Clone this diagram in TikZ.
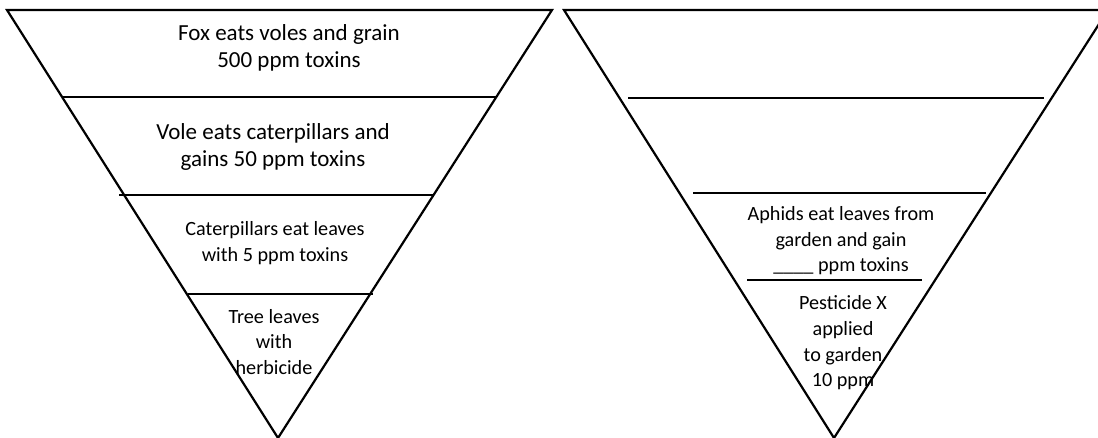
\documentclass[tikz,border=0pt]{standalone}
\usepackage{fontspec}
\setmainfont{Carlito}
\usetikzlibrary{positioning}

\begin{document}
\begin{tikzpicture}[
						x=0.5pt,
						y=-0.5pt,
						side/.style={line width=1.1pt, line join=miter},
						tierline/.style={line width=1.2pt},
						bigtext/.style={align=center, inner sep=0pt, font=\fontsize{11.5}{13.5}\selectfont},
						smalltext/.style={align=center, inner sep=0pt, font=\fontsize{10.1}{12.8}\selectfont}
					]
					\useasboundingbox (0,0) rectangle (1098,438);
					% left pyramid
					\coordinate (ltl) at (7,10);
					\coordinate (ltr) at (552,10);
					\coordinate (lap) at (278,438);
					\coordinate (l1a) at (62,97);
					\coordinate (l1b) at (497,97);
					\coordinate (l2a) at (119,195);
					\coordinate (l2b) at (433,195);
					\coordinate (l3a) at (188,294);
					\coordinate (l3b) at (373,294);
					\draw[side] (ltl) -- (ltr) -- (lap) -- cycle;
					\draw[tierline] (l1a) -- (l1b);
					\draw[tierline] (l2a) -- (l2b);
					\draw[tierline] (l3a) -- (l3b);
					\node[bigtext] (fox) at (289,48) {Fox eats voles and grain\\500 ppm toxins};
					\node[bigtext] (vole) at (273,147) {Vole eats caterpillars and\\gains 50 ppm toxins};
					\node[smalltext] (cater) at (275,243) {Caterpillars eat leaves\\with 5 ppm toxins};
					\node[smalltext] (tree) at (274,342) {Tree leaves\\with\\herbicide};
					% right pyramid
					\coordinate (rtl) at (564,10);
					\coordinate (rtr) at (1108,10);
					\coordinate (rap) at (834,438);
					\coordinate (r1a) at (628,98);
					\coordinate (r1b) at (1044,98);
					\coordinate (r2a) at (693,193);
					\coordinate (r2b) at (986,193);
					\coordinate (r3a) at (747,280);
					\coordinate (r3b) at (922,280);
					\draw[side] (rtl) -- (rtr) -- (rap) -- cycle;
					\draw[tierline] (r1a) -- (r1b);
					\draw[tierline] (r2a) -- (r2b);
					\draw[tierline] (r3a) -- (r3b);
					\node[smalltext] (aphid) at (841,241) {Aphids eat leaves from\\garden and gain\\\_\_\_\_ ppm toxins};
					\node[smalltext] (pest) at (843,343) {Pesticide X\\applied\\to garden\\10 ppm};
				\end{tikzpicture}
\end{document}
